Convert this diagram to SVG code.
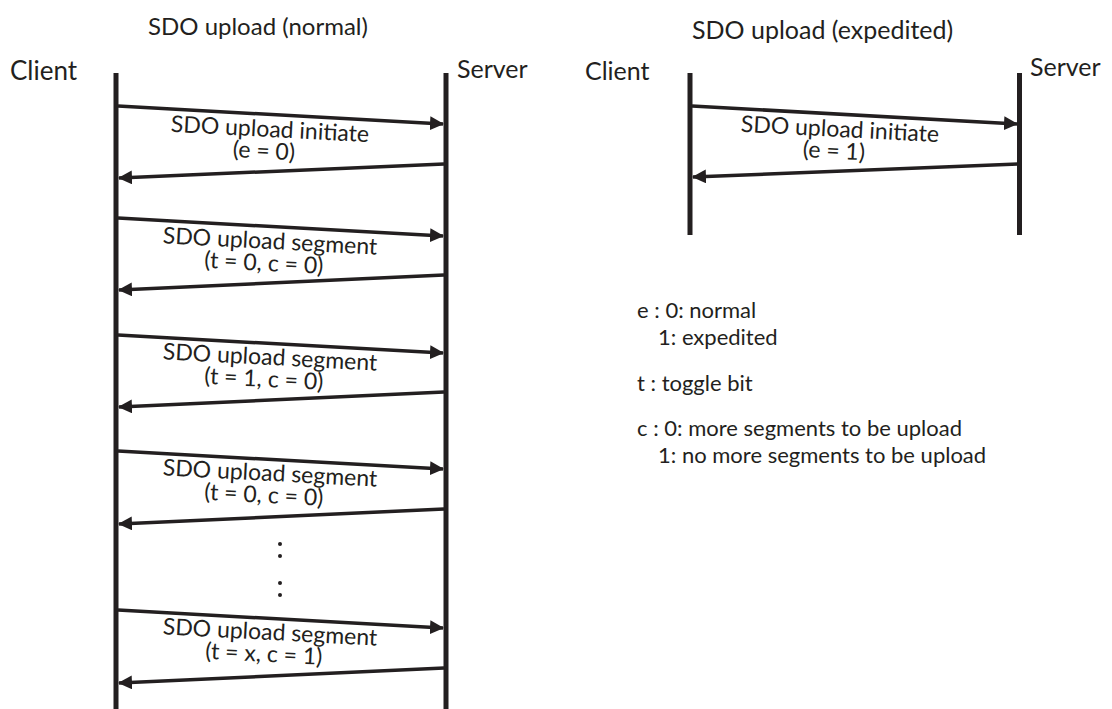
<svg xmlns="http://www.w3.org/2000/svg" width="1112" height="709" viewBox="0 0 1112 709">
<defs>
<marker id="ah" markerUnits="userSpaceOnUse" markerWidth="14" markerHeight="14" viewBox="0 0 14 14" refX="13" refY="7" orient="auto">
<path d="M0,0 L14,7 L0,14 Z" fill="#231f20"/>
</marker>
<style>
text{font-family:Lato,"Open Sans","Liberation Sans",sans-serif;fill:#231f20;font-size:22px}
.ll{stroke:#231f20;stroke-width:5;fill:none}
.msg{stroke:#231f20;stroke-width:3.5;fill:none;marker-end:url(#ah)}
.lbl{text-anchor:middle;font-size:23px}
.role{font-size:25px}
.title{font-size:24px}
</style>
</defs>
<rect width="1112" height="709" fill="#fff"/>

<g id="titles">
<text class="title" x="148" y="35">SDO upload (normal)</text>
<text class="title" x="692" y="39" style="font-size:25px">SDO upload (expedited)</text>
</g>

<g id="client-normal">
<text class="role" x="10" y="80" style="font-size:26px">Client</text>
<line class="ll" x1="116" y1="73" x2="116" y2="709"/>
</g>
<g id="server-normal">
<text class="role" x="457" y="78">Server</text>
<line class="ll" x1="446" y1="73" x2="446" y2="709"/>
</g>
<g id="client-expedited">
<text class="role" x="585" y="80">Client</text>
<line class="ll" x1="690" y1="73" x2="690" y2="235"/>
</g>
<g id="server-expedited">
<text class="role" x="1030" y="76">Server</text>
<line class="ll" x1="1019.5" y1="73" x2="1019.5" y2="235"/>
</g>

<g id="connectors">
<line class="msg" x1="118" y1="106" x2="443" y2="124"/>
<line class="msg" x1="444" y1="164" x2="119" y2="178"/>
<line class="msg" x1="118" y1="218" x2="443" y2="236"/>
<line class="msg" x1="444" y1="275" x2="119" y2="290"/>
<line class="msg" x1="118" y1="335" x2="443" y2="353"/>
<line class="msg" x1="444" y1="392" x2="119" y2="407"/>
<line class="msg" x1="118" y1="451" x2="443" y2="469"/>
<line class="msg" x1="444" y1="509" x2="119" y2="524"/>
<line class="msg" x1="118" y1="610" x2="443" y2="628"/>
<line class="msg" x1="444" y1="668" x2="119" y2="683"/>
<line class="msg" x1="692" y1="106" x2="1017" y2="124"/>
<line class="msg" x1="1018" y1="164" x2="693" y2="177"/>
</g>

<g id="labels">
<g transform="translate(270,130) rotate(3)"><text class="lbl"><tspan x="0" y="7">SDO upload initiate</tspan><tspan x="-5" y="29">(e = 0)</tspan></text></g>
<g transform="translate(270,242) rotate(3)"><text class="lbl"><tspan x="0" y="7">SDO upload segment</tspan><tspan x="-5" y="29">(t = 0, c = 0)</tspan></text></g>
<g transform="translate(270,358) rotate(3)"><text class="lbl"><tspan x="0" y="7">SDO upload segment</tspan><tspan x="-5" y="29">(t = 1, c = 0)</tspan></text></g>
<g transform="translate(270,474) rotate(3)"><text class="lbl"><tspan x="0" y="7">SDO upload segment</tspan><tspan x="-5" y="29">(t = 0, c = 0)</tspan></text></g>
<g transform="translate(270,633) rotate(3)"><text class="lbl"><tspan x="0" y="7">SDO upload segment</tspan><tspan x="-5" y="29">(t = x, c = 1)</tspan></text></g>
<g transform="translate(840,130) rotate(3)"><text class="lbl"><tspan x="0" y="7">SDO upload initiate</tspan><tspan x="-5" y="29">(e = 1)</tspan></text></g>
</g>

<g id="ellipsis" fill="#231f20">
<circle cx="280" cy="544" r="2"/>
<circle cx="280" cy="556" r="2"/>
<circle cx="280" cy="583" r="2"/>
<circle cx="280" cy="595" r="2"/>
</g>

<g id="legend">
<text x="637" y="318">e : 0: normal</text>
<text x="658" y="345">1: expedited</text>
<text x="637" y="391">t : toggle bit</text>
<text x="637" y="436">c : 0: more segments to be upload</text>
<text x="658" y="463">1: no more segments to be upload</text>
</g>
</svg>
